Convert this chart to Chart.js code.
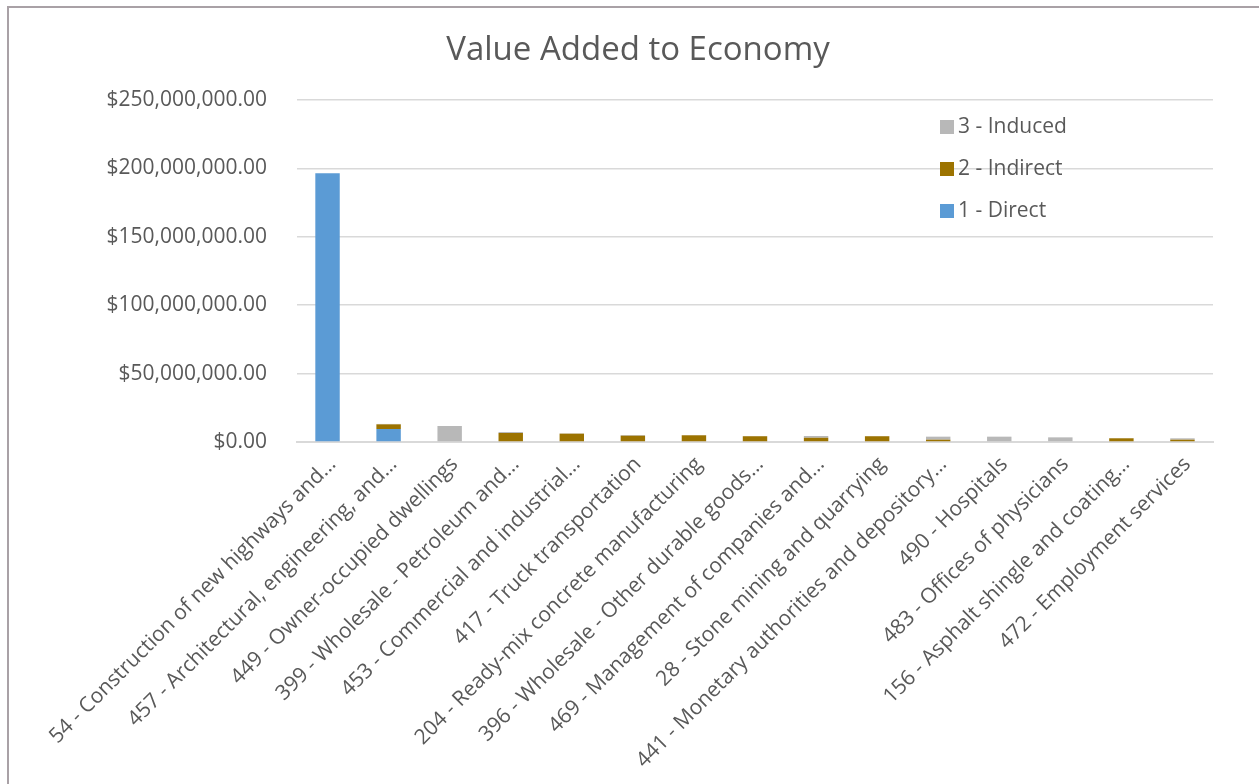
<!DOCTYPE html>
<html>
<head>
<meta charset="utf-8">
<title>Value Added to Economy</title>
<script src="https://cdn.jsdelivr.net/npm/chart.js@4"></script>
<style>
  html, body { margin: 0; padding: 0; background: #fff; overflow: hidden; }
  .frame {
    position: absolute; left: 7px; top: 6px;
    width: 1300px; height: 820px;
    border-left: 2px solid #a9a1a6; border-top: 2px solid #a9a1a6;
  }
  #chart-wrap { position: absolute; left: 0; top: 0; width: 1259px; height: 784px; }
</style>
</head>
<body>
<div class="frame"></div>
<div id="chart-wrap"><canvas id="value-chart"></canvas></div>
<script>
// Industries, largest contribution first
const sectors = [
  "54 - Construction of new highways and…",
  "457 - Architectural, engineering, and…",
  "449 - Owner-occupied dwellings",
  "399 - Wholesale - Petroleum and…",
  "453 - Commercial and industrial…",
  "417 - Truck transportation",
  "204 - Ready-mix concrete manufacturing",
  "396 - Wholesale - Other durable goods…",
  "469 - Management of companies and…",
  "28 - Stone mining and quarrying",
  "441 - Monetary authorities and depository…",
  "490 - Hospitals",
  "483 - Offices of physicians",
  "156 - Asphalt shingle and coating…",
  "472 - Employment services"
];

// Value added in dollars, by impact type
const direct   = [196500000, 9500000, 0, 0, 0, 0, 0, 0, 0, 0, 0, 0, 0, 0, 0];
const indirect = [0, 3400000, 0, 6600000, 6100000, 4600000, 4900000, 4200000, 3100000, 4200000, 1700000, 0, 0, 2700000, 1700000];
const induced  = [0, 300000, 11700000, 700000, 200000, 500000, 200000, 200000, 1300000, 200000, 2200000, 3900000, 3400000, 200000, 1000000];

const yTicks = [0, 50000000, 100000000, 150000000, 200000000, 250000000];

const chartTitle = "Value Added to Economy";
const textColor = "#595959";
const gridColor = "#d9d9d9";
const fontFamily = "'Open Sans', sans-serif";

function money(v) {
  return "$" + v.toLocaleString("en-US", { minimumFractionDigits: 2, maximumFractionDigits: 2 });
}

// title centred on the whole frame rather than the padded layout
const frameTitle = {
  id: "frameTitle",
  afterDraw(chart) {
    const ctx = chart.ctx;
    ctx.save();
    ctx.font = "33px " + fontFamily;
    ctx.fillStyle = textColor;
    ctx.textAlign = "center";
    ctx.textBaseline = "middle";
    ctx.fillText(chartTitle, 638, 51);
    ctx.restore();
  }
};

// legend drawn inside the plot, top right, in reverse stack order
const insideLegend = {
  id: "insideLegend",
  afterDraw(chart) {
    const ctx = chart.ctx;
    const area = chart.chartArea;
    const sets = chart.data.datasets.slice().reverse();
    const x = area.right - 273;
    let y = area.top + 27;
    ctx.save();
    ctx.font = "21px " + fontFamily;
    ctx.textBaseline = "middle";
    sets.forEach((ds) => {
      ctx.fillStyle = ds.backgroundColor;
      ctx.fillRect(x, y - 7, 14, 14);
      ctx.fillStyle = textColor;
      ctx.fillText(ds.label, x + 18, y);
      y += 42;
    });
    ctx.restore();
  }
};

const ctx = document.getElementById("value-chart").getContext("2d");
const valueChart = new Chart(ctx, {
  type: "bar",
  data: {
    labels: sectors,
    datasets: [
      { label: "1 - Direct", data: direct, backgroundColor: "#5b9bd5" },
      { label: "2 - Indirect", data: indirect, backgroundColor: "#9c7300" },
      { label: "3 - Induced", data: induced, backgroundColor: "#b8b8b8" }
    ]
  },
  options: {
    responsive: true,
    maintainAspectRatio: false,
    animation: false,
    datasets: {
      bar: { barPercentage: 0.4, categoryPercentage: 1.0 }
    },
    layout: { padding: { left: 0, right: 46, top: 100, bottom: 0 } },
    plugins: {
      legend: { display: false },
      tooltip: { enabled: false },
      title: { display: false }
    },
    scales: {
      x: {
        stacked: true,
        grid: { display: false, drawTicks: false },
        border: { color: gridColor, width: 2 },
        ticks: {
          color: textColor,
          font: { family: fontFamily, size: 21 },
          maxRotation: 45,
          minRotation: 45,
          autoSkip: false,
          padding: 10,
          labelOffset: 5
        },
        afterFit(scale) { scale.height = 342; }
      },
      y: {
        stacked: true,
        min: 0,
        max: 250000000,
        afterBuildTicks(scale) { scale.ticks = yTicks.map((v) => ({ value: v })); },
        grid: { color: gridColor, lineWidth: 1.5, drawTicks: false },
        border: { display: false },
        ticks: {
          color: textColor,
          font: { family: fontFamily, size: 21 },
          padding: 30,
          callback: (v) => money(v)
        },
        afterFit(scale) { scale.width = 297; }
      }
    }
  },
  plugins: [frameTitle, insideLegend]
});
</script>
</body>
</html>
